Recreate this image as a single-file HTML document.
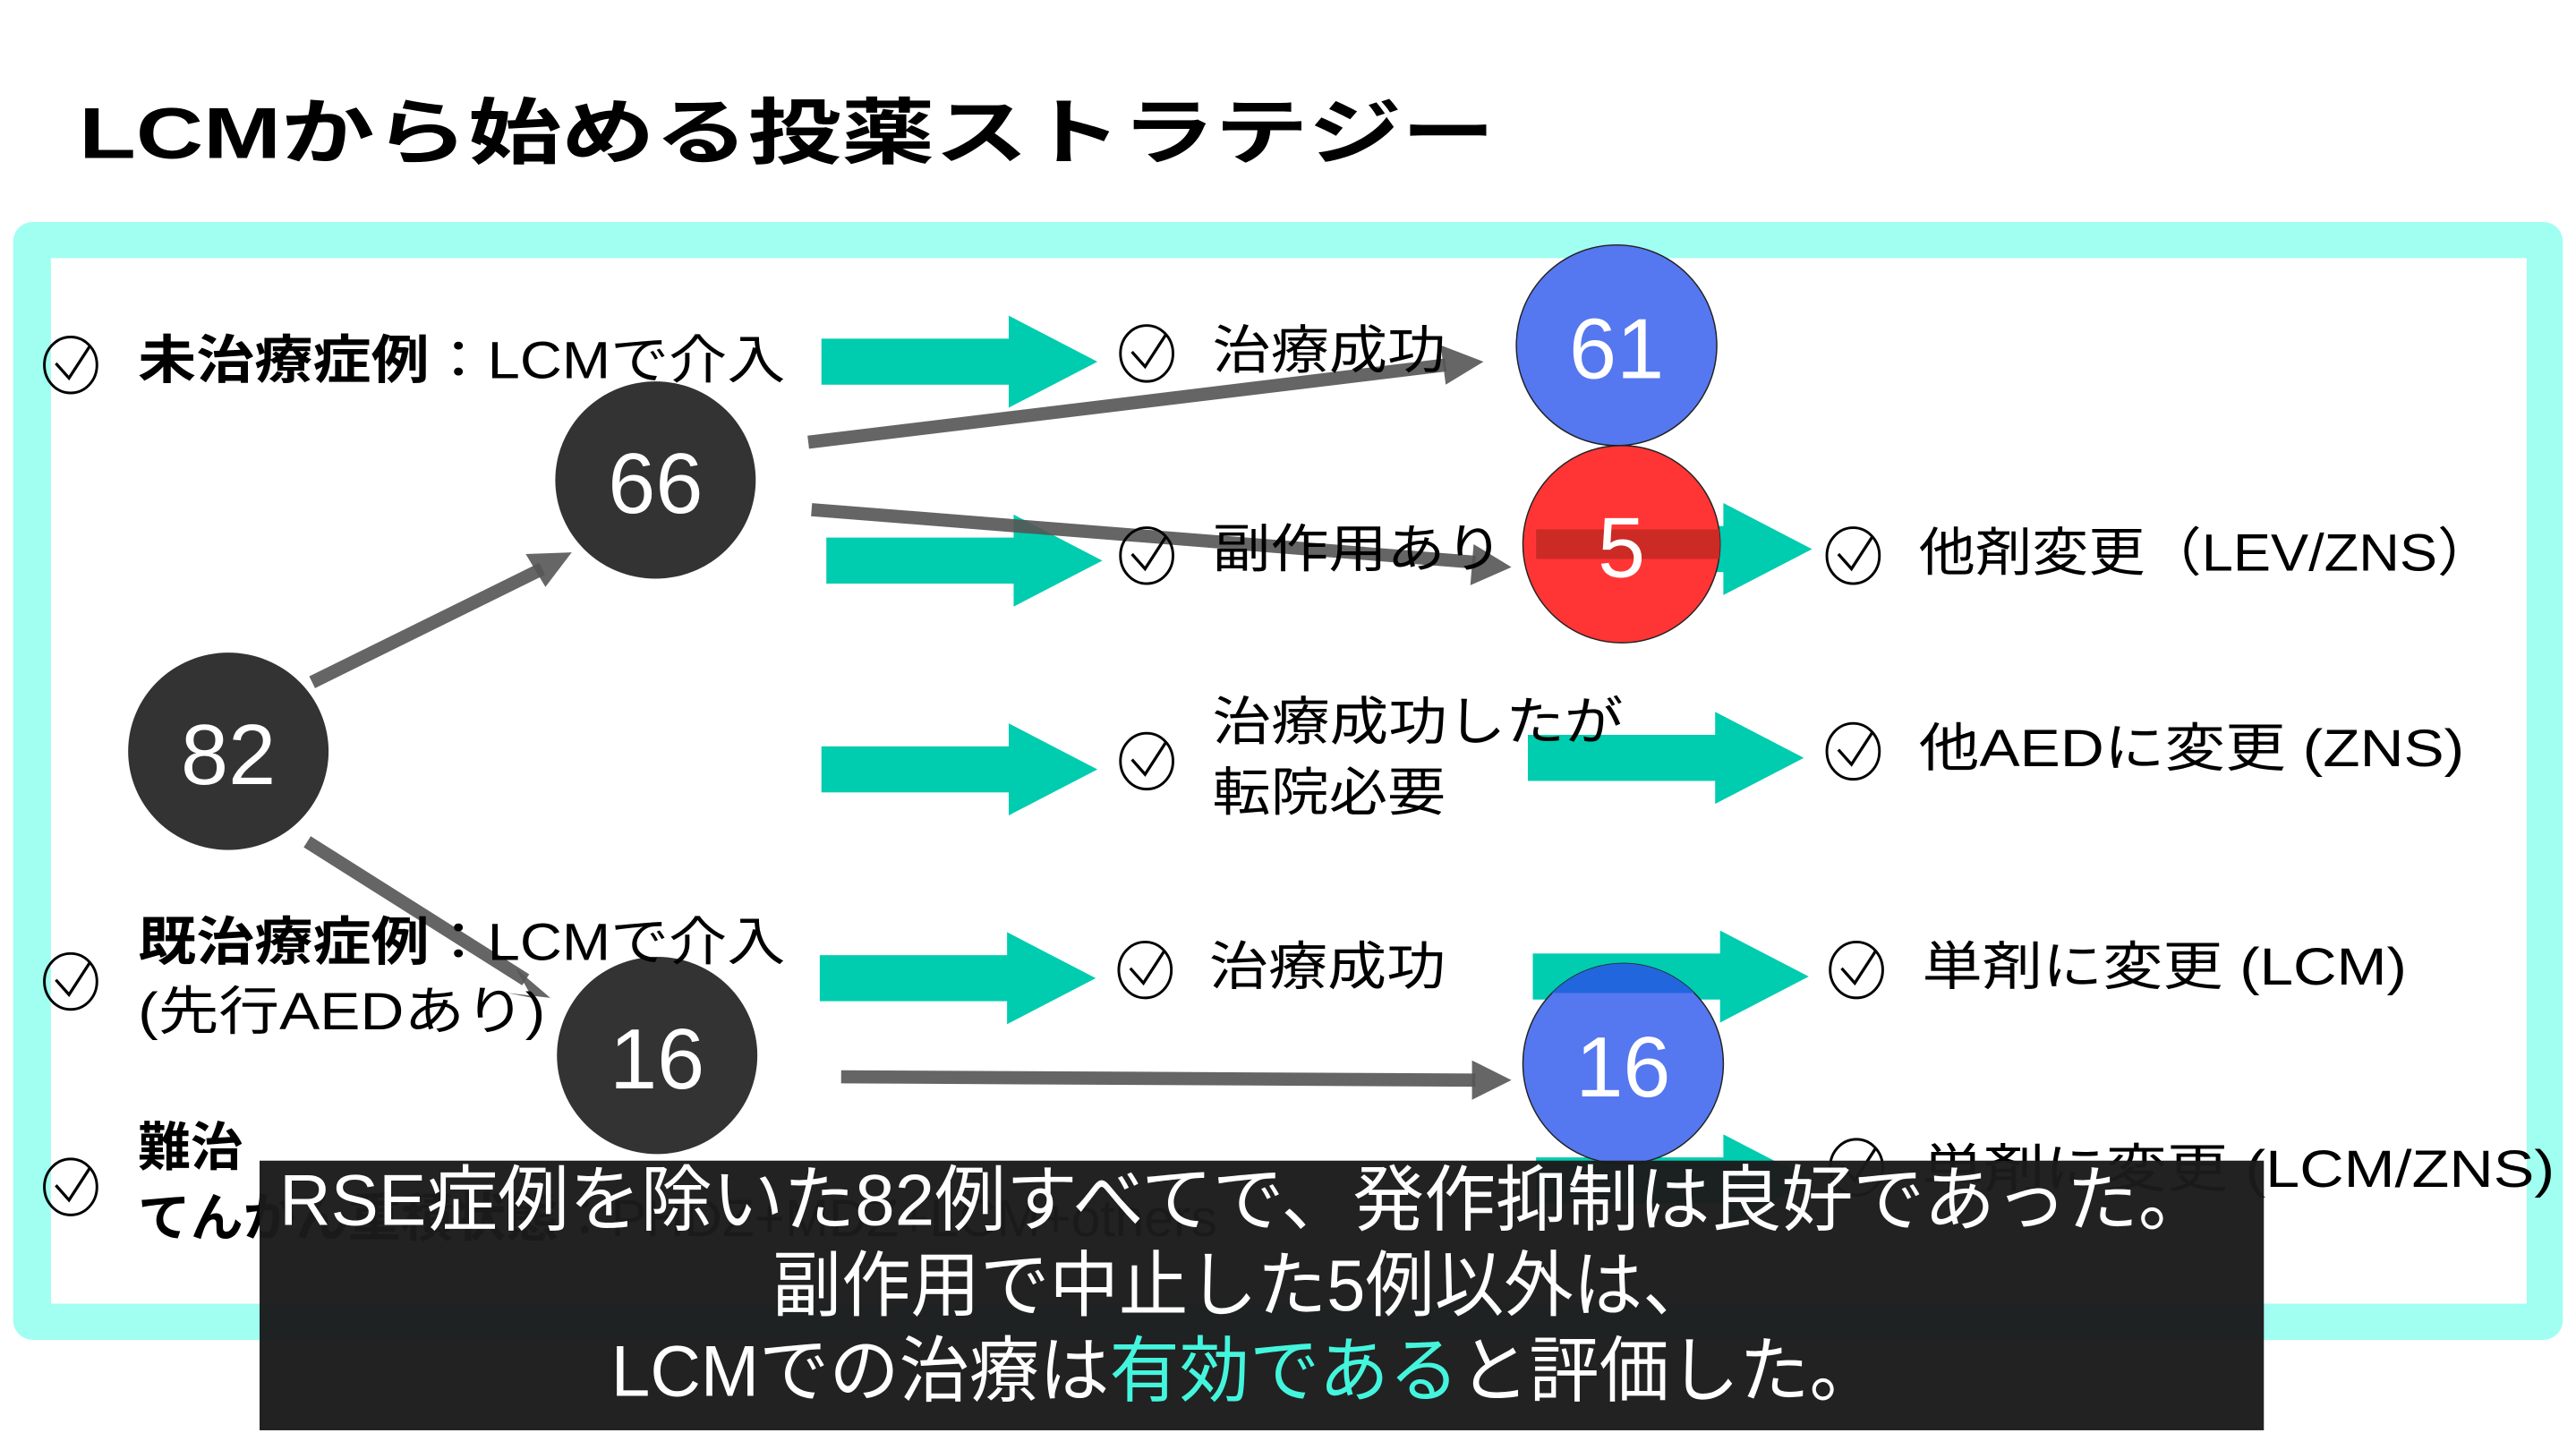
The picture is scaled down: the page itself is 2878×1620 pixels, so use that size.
<!DOCTYPE html>
<html><head><meta charset="utf-8"><style>
html,body{margin:0;padding:0;background:#fff;}
svg{display:block;}
text{font-family:"Liberation Sans","Noto Sans CJK JP",sans-serif;}
</style></head><body>
<svg width="2878" height="1620" viewBox="0 0 1568 882" preserveAspectRatio="none" xmlns="http://www.w3.org/2000/svg">
<defs>
<g id="chk"><ellipse cx="0" cy="0" rx="16" ry="17" fill="none" stroke="#000" stroke-width="1.6"/><path d="M-9,-1 L-1,8 L12,-12" fill="none" stroke="#000" stroke-width="1.8"/></g>
<g id="ta"><rect x="0" y="-14" width="115" height="28" fill="#00ccaf"/><path d="M114,-28 L168,0 L114,28Z" fill="#00ccaf"/></g>
<clipPath id="c16"><ellipse cx="988" cy="647" rx="61" ry="61"/></clipPath>
<clipPath id="c5"><ellipse cx="987" cy="331" rx="60" ry="60"/></clipPath>
</defs>
<rect width="1568" height="882" fill="#fff"/>
<text x="48" y="96" font-size="44" font-weight="bold" textLength="862" lengthAdjust="spacingAndGlyphs">LCMから始める投薬ストラテジー</text>
<rect x="8" y="135" width="1552" height="680" rx="12" fill="#a0fff0"/>
<rect x="31" y="157" width="1507" height="636" fill="#fff"/>

<use href="#ta" x="500" y="220"/>
<use href="#ta" x="503" y="341"/>
<use href="#ta" x="500" y="468"/>
<use href="#ta" x="499" y="595"/>
<use href="#ta" x="935" y="334"/>
<use href="#ta" x="930" y="461"/>
<use href="#ta" x="933" y="594"/>
<use href="#ta" x="935" y="718"/>

<ellipse cx="139" cy="457" rx="61" ry="60" fill="#333"/>
<ellipse cx="399" cy="292" rx="61" ry="60" fill="#333"/>
<ellipse cx="400" cy="642" rx="61" ry="60" fill="#333"/>
<ellipse cx="984" cy="210" rx="61" ry="61" fill="#5577f0" stroke="#222" stroke-width="0.8"/>
<ellipse cx="987" cy="331" rx="60" ry="60" fill="#ff3535" stroke="#222" stroke-width="0.8"/>
<rect x="935" y="322" width="112" height="18" fill="#cc2a25" clip-path="url(#c5)"/>
<ellipse cx="988" cy="647" rx="61" ry="61" fill="#5577f0" stroke="#222" stroke-width="0.8"/>
<rect x="920" y="580" width="140" height="24" fill="#2266dd" clip-path="url(#c16)"/>
<g fill="#fff" font-size="52" text-anchor="middle">
<text x="139" y="477">82</text><text x="399" y="312">66</text><text x="400" y="662">16</text>
<text x="984" y="230">61</text><text x="987" y="351">5</text><text x="988" y="667">16</text>
</g>

<g stroke="#555" stroke-width="8" opacity="0.9" fill="#555">
<line x1="190" y1="415" x2="330" y2="346"/>
<line x1="187" y1="512" x2="320" y2="596"/>
<line x1="492" y1="269" x2="880" y2="222"/>
<line x1="494" y1="310" x2="898" y2="342"/>
<line x1="512" y1="655" x2="898" y2="657"/>
</g>
<g fill="#555" opacity="0.9">
<path d="M348,336 L320,337 L332,357Z"/>
<path d="M335,607 L314,589 L324,607 L309,604Z"/>
<path d="M903,220 L877,210 L880,234Z"/>
<path d="M920,345 L897,331 L895,356Z"/>
<path d="M920,657 L896,645 L896,669Z"/>
</g>

<use href="#chk" x="43" y="222"/><use href="#chk" x="43" y="597"/><use href="#chk" x="43" y="722"/>
<use href="#chk" x="698" y="215"/><use href="#chk" x="698" y="338"/><use href="#chk" x="698" y="463"/><use href="#chk" x="697" y="590"/>
<use href="#chk" x="1128" y="338"/><use href="#chk" x="1128" y="457"/><use href="#chk" x="1130" y="590"/><use href="#chk" x="1130" y="710"/>

<g font-size="32" fill="#000" lengthAdjust="spacingAndGlyphs">
<text x="84" y="230" textLength="394" lengthAdjust="spacingAndGlyphs"><tspan font-weight="bold">未治療症例</tspan>：LCMで介入</text>
<text x="84" y="584" textLength="394" lengthAdjust="spacingAndGlyphs"><tspan font-weight="bold">既治療症例</tspan>：LCMで介入</text>
<text x="84" y="626" textLength="248" lengthAdjust="spacingAndGlyphs">(先行AEDあり)</text>
<text x="84" y="709" font-weight="bold">難治</text>
<text x="84" y="752"><tspan font-weight="bold">てんかん重積状態</tspan>：PHDZ+MDZ+LCM+others</text>
<text x="738" y="224" textLength="142" lengthAdjust="spacingAndGlyphs">治療成功</text>
<text x="738" y="345" textLength="177" lengthAdjust="spacingAndGlyphs">副作用あり</text>
<text x="738" y="450" textLength="250" lengthAdjust="spacingAndGlyphs">治療成功したが</text>
<text x="738" y="493" textLength="142" lengthAdjust="spacingAndGlyphs">転院必要</text>
<text x="736" y="599" textLength="144" lengthAdjust="spacingAndGlyphs">治療成功</text>
<text x="1168" y="347" textLength="350" lengthAdjust="spacingAndGlyphs">他剤変更（LEV/ZNS）</text>
<text x="1168" y="466" textLength="332" lengthAdjust="spacingAndGlyphs">他AEDに変更 (ZNS)</text>
<text x="1170" y="599" textLength="295" lengthAdjust="spacingAndGlyphs">単剤に変更 (LCM)</text>
<text x="1170" y="722" textLength="385" lengthAdjust="spacingAndGlyphs">単剤に変更 (LCM/ZNS)</text>
</g>

<rect x="158" y="706" width="1220" height="164" fill="#1b1b1b" opacity="0.97"/>
<g fill="#fff" font-size="44">
<text x="170" y="745" textLength="1175" lengthAdjust="spacingAndGlyphs">RSE症例を除いた82例すべてで、発作抑制は良好であった。</text>
<text x="470" y="797" textLength="572" lengthAdjust="spacingAndGlyphs">副作用で中止した5例以外は、</text>
<text x="372" y="849" textLength="772" lengthAdjust="spacingAndGlyphs">LCMでの治療は<tspan fill="#44f5dd">有効である</tspan>と評価した。</text>
</g>
</svg>
</body></html>
